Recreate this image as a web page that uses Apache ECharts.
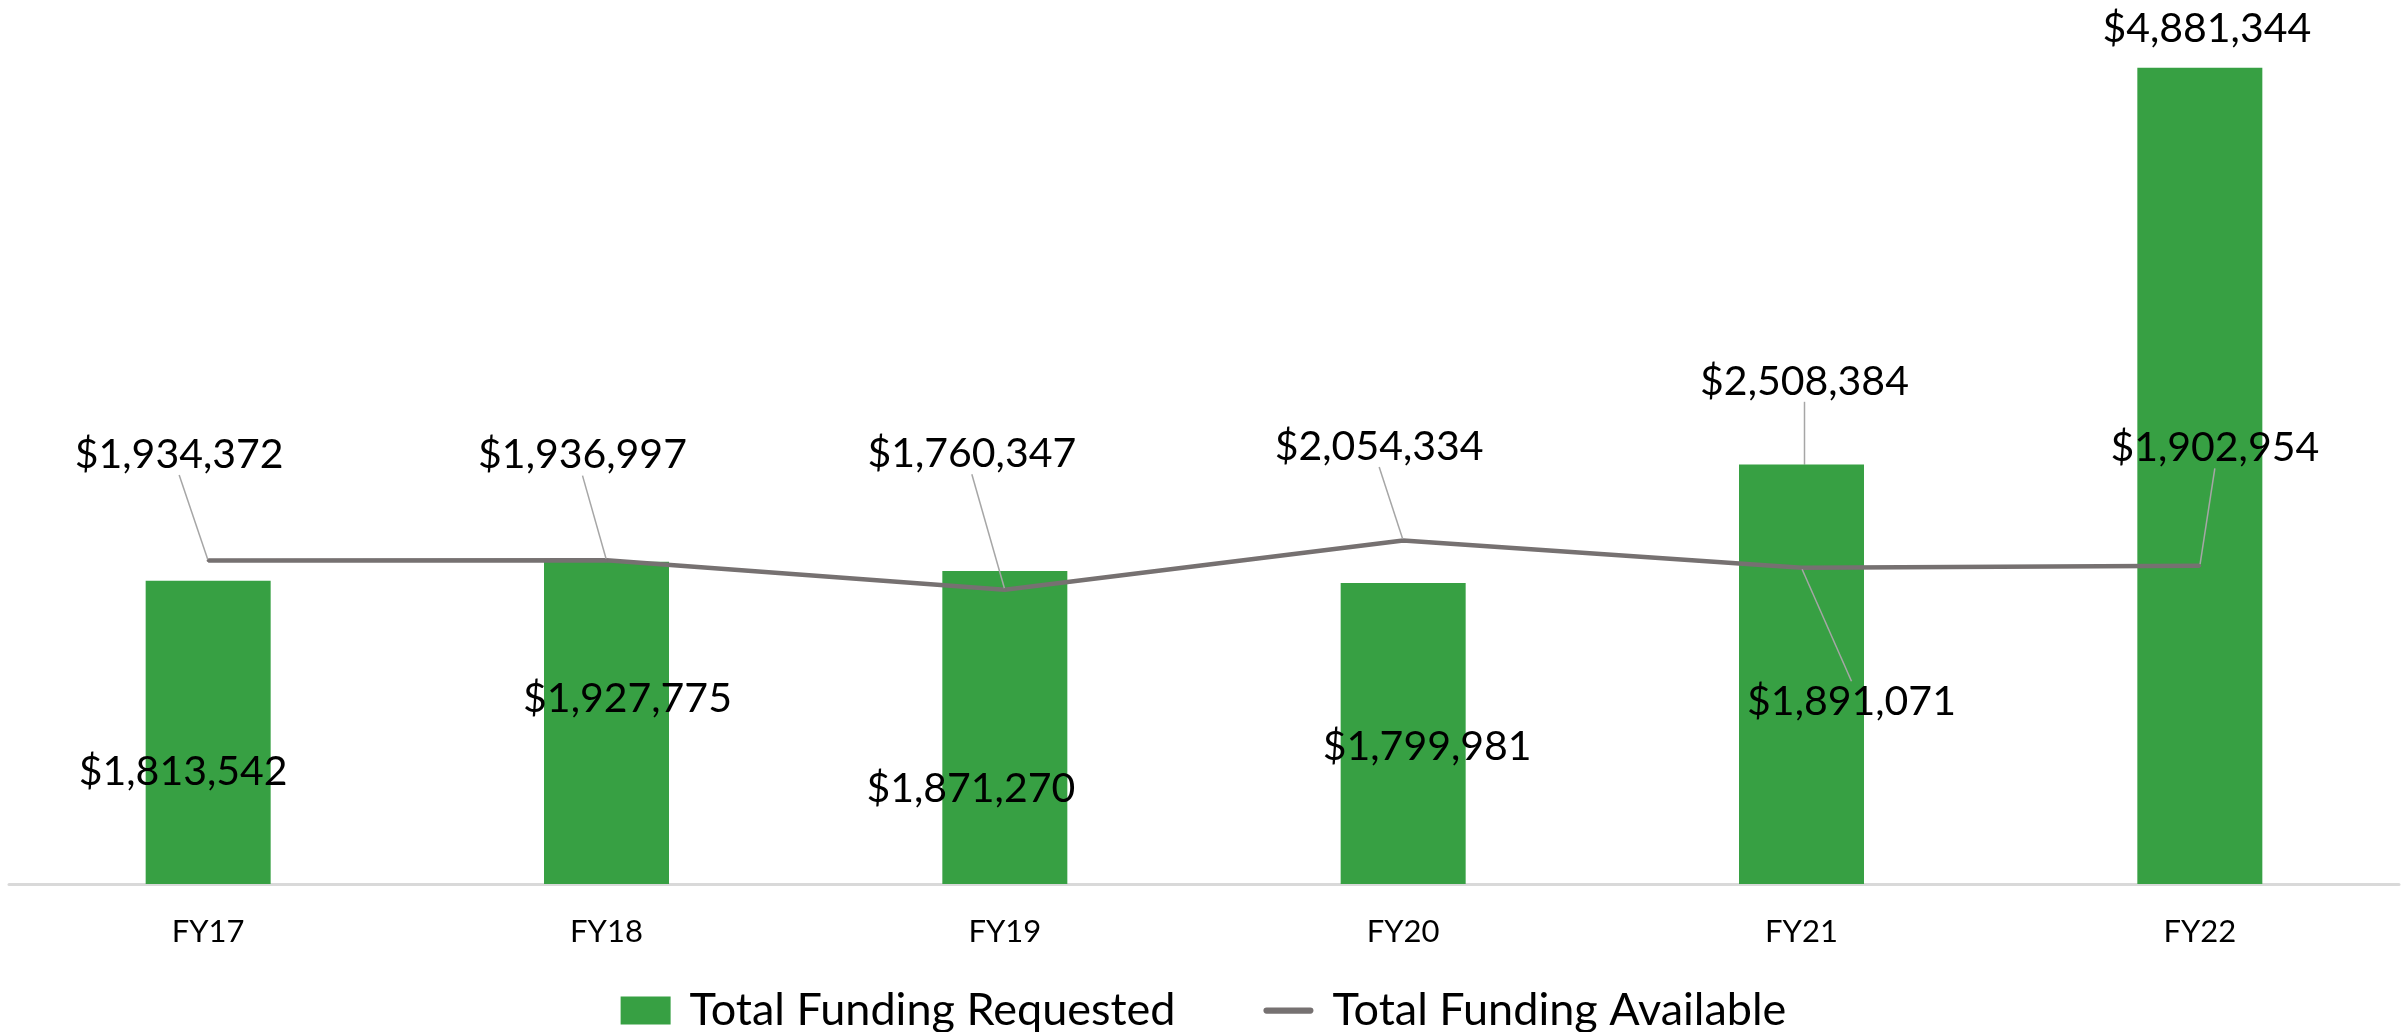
<!DOCTYPE html>
<html>
<head>
<meta charset="utf-8">
<title>Total Funding Requested vs Available</title>
<script src="https://cdn.jsdelivr.net/npm/echarts@6/dist/echarts.min.js"></script>
<style>
  html, body { margin: 0; padding: 0; background: #fff; }
  #chart { width: 2407px; height: 1032px; }
</style>
</head>
<body>
<div id="chart"></div>
<script>
// data
const years = ['FY17', 'FY18', 'FY19', 'FY20', 'FY21', 'FY22'];
const requested = [1813542, 1927775, 1871270, 1799981, 2508384, 4881344];
const available = [1934372, 1936997, 1760347, 2054334, 1891071, 1902954];

// where each data label sits relative to its mark (px), as placed in the original
const requestedLabelShift = [[-25, 39], [21, -24], [-34, 61], [24, 13], [3, -293], [7, -447]];
const availableLabelShift = [[-29, -106], [-24, -105], [-33, -136], [-24, -94], [50, 134], [15, -118]];
const requestedLeader = [false, false, false, false, true, false];

const FONT = 'Lato, "Open Sans", sans-serif';
const money = (v) => '$' + Number(v).toLocaleString('en-US');

const chart = echarts.init(document.getElementById('chart'));

const option = {
  animation: false,
  textStyle: { fontFamily: FONT },
  grid: { left: 9, right: 8, top: 48, bottom: 148, containLabel: false },
  legend: {
    top: 983,
    left: 'center',
    itemGap: 88,
    itemWidth: 50,
    itemHeight: 28,
    textStyle: { fontFamily: FONT, fontSize: 45, color: '#000', padding: [0, 0, 0, 14] },
    data: [
      { name: 'Total Funding Requested', icon: 'rect' },
      { name: 'Total Funding Available', icon: 'path://M3,0 H52 A3,3 0 0 1 52,7 H3 A3,3 0 0 1 3,0 Z' }
    ]
  },
  xAxis: {
    type: 'category',
    data: years,
    axisLine: { lineStyle: { color: '#D9D9D9', width: 3 } },
    axisTick: { show: false },
    axisLabel: { fontFamily: FONT, fontSize: 31, color: '#000', margin: 32 }
  },
  yAxis: {
    type: 'value',
    min: 0,
    max: 5000000,
    show: false,
    splitLine: { show: false }
  },
  series: [
    {
      name: 'Total Funding Requested',
      type: 'bar',
      barWidth: 125,
      itemStyle: { color: '#37A043' },
      data: requested.map((v, i) => ({
        value: v,
        labelLine: { show: requestedLeader[i] }
      })),
      label: {
        show: true,
        position: 'inside',
        color: '#000',
        fontFamily: FONT,
        fontSize: 41,
        formatter: (p) => money(p.value)
      },
      labelLine: { show: false, lineStyle: { color: '#A6A6A6', width: 1.5 } },
      labelLayout: (p) => ({
        dx: requestedLabelShift[p.dataIndex][0],
        dy: requestedLabelShift[p.dataIndex][1]
      }),
      z: 1
    },
    {
      name: 'Total Funding Available',
      type: 'line',
      data: available,
      symbol: 'circle',
      symbolSize: 3,
      showSymbol: true,
      lineStyle: { color: '#767171', width: 4.5 },
      itemStyle: { color: '#767171' },
      label: {
        show: true,
        position: 'inside',
        color: '#000',
        fontFamily: FONT,
        fontSize: 41,
        formatter: (p) => money(p.value)
      },
      labelLine: { show: true, lineStyle: { color: '#A6A6A6', width: 1.5 } },
      labelLayout: (p) => ({
        dx: availableLabelShift[p.dataIndex][0],
        dy: availableLabelShift[p.dataIndex][1]
      }),
      z: 3
    }
  ]
};

chart.setOption(option);
</script>
</body>
</html>
